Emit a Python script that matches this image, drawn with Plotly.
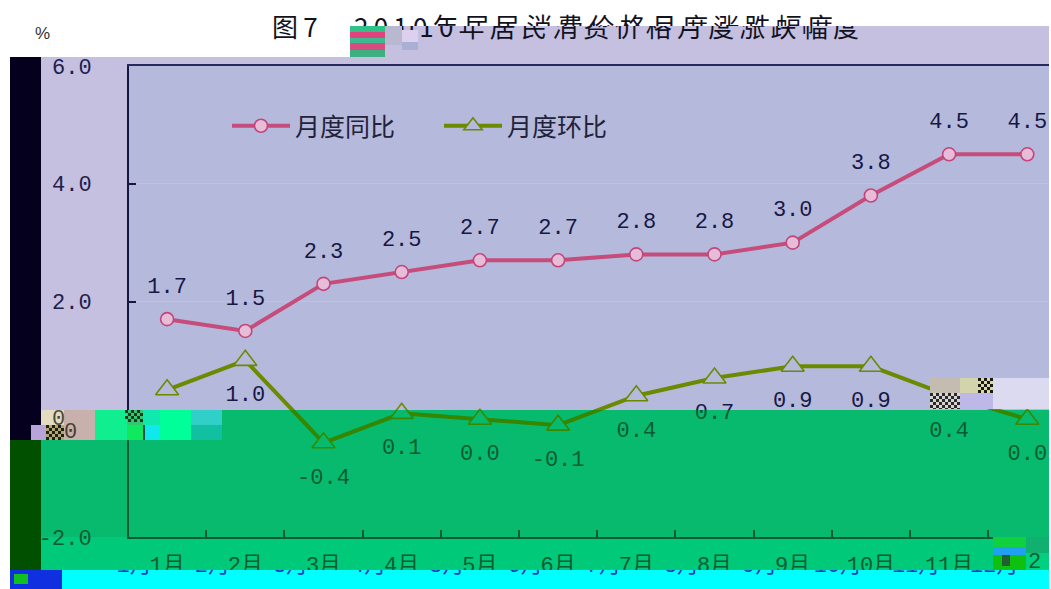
import plotly.graph_objects as go

MONTHS = ["1月","2月","3月","4月","5月","6月","7月","8月","9月","10月","11月","12月"]
YOY = [1.7,1.5,2.3,2.5,2.7,2.7,2.8,2.8,3.0,3.8,4.5,4.5]
MOM = [0.5,1.0,-0.4,0.1,0.0,-0.1,0.4,0.7,0.9,0.9,0.4,0.0]
YOY_NAME = "月度同比"
MOM_NAME = "月度环比"
TITLE = "图7　2010年居民消费价格月度涨跌幅度"
Y_UP = [6,4,2]
Y_UP_TXT = ["6.0","4.0","2.0"]
Y_LOW = [0,-2]
Y_LOW_TXT = ["0.0","-2.0"]

W, H = 1051, 589
PL, PR, PT, PB = 129, 1049, 66, 537
BAND = 410
PITCH = 78.2
y2px = (PB-PT)/8.0
Y_SPLIT = (PB-BAND)/y2px-2
XR = [-0.5+1/PITCH, -0.5+(PR-128)/PITCH]
NAVY = "#171745"; DG = "#0a5c32"
NUM = "Liberation Mono, Noto Sans CJK SC"
CJK = "Noto Sans CJK SC"

def dx(x0,x1): return [x0/W, x1/W]
def dy(y0,y1): return [1-y1/H, 1-y0/H]

fig = go.Figure()
layout = {}
count = 0
def axes(xcfg, ycfg, rect):
    global count
    count += 1
    n = "" if count == 1 else str(count)
    x0,y0,x1,y1 = rect
    layout["xaxis"+n] = dict(domain=dx(x0,x1), anchor="y"+n, **xcfg)
    layout["yaxis"+n] = dict(domain=dy(y0,y1), anchor="x"+n, **ycfg)
    return "x"+n, "y"+n

hidden = dict(visible=False, fixedrange=True)
def px_axes(rect):
    x0,y0,x1,y1 = rect
    return axes(dict(hidden, range=[x0,x1]), dict(hidden, range=[y1,y0]), rect)

cat = dict(type="category", categoryorder="array", categoryarray=MONTHS, range=XR, fixedrange=True)

# upper band
xu, yu = axes(dict(cat, side="top", showline=True, linecolor="#28285c", linewidth=2,
                   showticklabels=False, ticks="", showgrid=False, zeroline=False),
              dict(range=[Y_SPLIT,6], tickvals=Y_UP, ticktext=Y_UP_TXT, showline=True, linecolor=NAVY, linewidth=2,
                   ticks="inside", ticklen=7, tickcolor=NAVY, tickwidth=2, ticklabelstandoff=31,
                   tickfont=dict(family=NUM,size=22,color="#20204a"), showgrid=True, gridcolor="#bfc3e3", gridwidth=1,
                   zeroline=False, fixedrange=True),
              (PL,PT,PR,BAND))
# lower band
xl, yl = axes(dict(cat, showline=True, linecolor=DG, linewidth=2, showticklabels=False, tickson="boundaries",
                   ticks="inside", ticklen=7, tickcolor=DG, tickwidth=2, showgrid=False, zeroline=False),
              dict(range=[-2,Y_SPLIT], tickvals=Y_LOW, ticktext=Y_LOW_TXT, showline=True, linecolor=DG, linewidth=2,
                   ticks="inside", ticklen=7, tickcolor=DG, tickwidth=2, ticklabelstandoff=31,
                   tickfont=dict(family=NUM,size=22,color=DG), showgrid=False, zeroline=False, fixedrange=True),
              (PL,BAND,PR,PB))

def series(x,y,vals,name,lc,mc,ml,sym,size,legend):
    fig.add_trace(go.Scatter(x=MONTHS,y=vals,name=name,mode="lines+markers",xaxis=x,yaxis=y,showlegend=legend,
        line=dict(color=lc,width=4),marker=dict(symbol=sym,size=size,color=mc,line=dict(color=ml,width=1.6))))

def labels(x,y,vals,off,color):
    fig.add_trace(go.Scatter(x=MONTHS,y=[v+off for v in vals],text=[f"{v:.1f}" for v in vals],mode="text",
        xaxis=x,yaxis=y,showlegend=False,textposition="middle center",
        textfont=dict(family=NUM,size=22,color=color)))

series(xu,yu,YOY,YOY_NAME,"#c64c7b","#e6bcd8","#c2467a","circle",13,True)
series(xu,yu,MOM,MOM_NAME,"#6b8a00","#b5b9dc","#6b8a00","triangle-up",20,True)
series(xl,yl,MOM,MOM_NAME,"#358600","#08ba6e","#358a00","triangle-up",20,False)
labels(xu,yu,YOY,0.54,NAVY)
labels(xu,yu,MOM,-0.6,NAVY)
labels(xl,yl,MOM,-0.6,DG)

# month labels, top part in place, bottom part displaced into the cyan strip
xt, yt = axes(dict(cat, visible=False), dict(hidden, range=[570,537]), (PL,537,PR,570))
fig.add_trace(go.Scatter(x=MONTHS,y=[566.5]*12,text=MONTHS,mode="text",xaxis=xt,yaxis=yt,showlegend=False,
    textposition="middle center",textfont=dict(family=NUM,size=22,color=DG)))
G0, G1 = 62, PR
SHIFT = 33
xg, yg = axes(dict(cat, visible=False, range=[(G0-128+SHIFT)/PITCH-0.5,(G1-128+SHIFT)/PITCH-0.5]),
              dict(hidden, range=[589,570]), (G0,570,G1,589))
fig.add_trace(go.Scatter(x=MONTHS,y=[566.5]*12,text=MONTHS,mode="text",xaxis=xg,yaxis=yg,showlegend=False,
    textposition="middle center",textfont=dict(family=NUM,size=22,color="#1438c8")))

# title: two displaced pieces
SP_TITLE = "\u2009".join(TITLE)
def title_piece(rect, x):
    a,b = px_axes(rect)
    fig.add_trace(go.Scatter(x=[x],y=[30],text=[SP_TITLE],mode="text",xaxis=a,yaxis=b,showlegend=False,
        textposition="middle right",textfont=dict(family=CJK,size=26,color="#12121f")))
title_piece((0,0,350,57),272)
title_piece((350,0,1049,26),272)
title_piece((350,26,1049,57),298)

def rect(x0,y0,x1,y1,c,layer="below"):
    return dict(type="rect",xref="paper",yref="paper",x0=x0/W,x1=x1/W,y0=1-y1/H,y1=1-y0/H,
                fillcolor=c,line_width=0,layer=layer)
BG = [(350,26,1049,66,"#c5bfe0"),(41,57,350,66,"#c5bfe0"),(41,66,128,BAND,"#c5bfe0"),
      (128,66,1049,BAND,"#b5b9dc"),(41,BAND,1049,537,"#08ba6e"),(41,537,1049,570,"#00c97a"),
      (10,570,1049,589,"#00ffff"),(10,57,41,440,"#04001e"),(10,440,41,570,"#005000")]
PATCH = [(350,26,385,32,"#30c088"),(350,32,385,38,"#e0447e"),(350,38,385,43,"#40b890"),(350,43,385,50,"#d84c80"),
         (350,50,385,57,"#3cb080"),(385,26,402,45,"#b8b8d0"),(402,30,418,42,"#dcd0ee"),(402,42,418,50,"#aab0d4"),
         (31,425,46,440,"#b8a4d8"),(41,410,64,425,"#e4dcc0"),(46,425,64,440,"#b0a870"),(64,410,95,440,"#c8b0ac"),
         (95,410,127,440,"#10ee90"),(127,410,143,425,"#30c870"),(127,425,143,440,"#10e860"),(143,410,160,425,"#10e8b0"),
         (143,425,160,440,"#10e8f0"),(143,425,145,440,"#20504a"),(160,410,191,440,"#00ff98"),(191,410,222,425,"#30d0c8"),(191,425,222,440,"#10c0a0"),
         (930,378,960,393,"#c4bcb0"),(960,378,978,393,"#d4d4ac"),(978,378,993,393,"#d8d8b0"),(993,378,1049,409,"#dcdaf0"),
         (930,393,960,409,"#d8d4d4"),(960,393,993,409,"#bdb8e8"),
         (993,537,1026,547,"#10d040"),(993,547,1026,555,"#20a0f0"),(993,555,1026,570,"#10c010"),(1002,555,1010,566,"#206030"),
         (1026,537,1049,553,"#10b070"),(1026,553,1049,570,"#00d080"),
         (10,570,62,589,"#1030e0"),(14,574,28,584,"#10c020")]
CHECKERS = [(46,425,64,440,"#20201a"),(978,378,993,393,"#1a1a10"),(930,393,960,409,"#2a2a2a"),(125,410,143,422,"#203820")]
shapes = [rect(*b) for b in BG] + [rect(*p,layer="above") for p in PATCH]
for x0,y0,x1,y1,c in CHECKERS:
    for i,x in enumerate(range(x0,x1,3)):
        for j,y in enumerate(range(y0,y1,3)):
            if (i+j)%2==0:
                shapes.append(rect(x,y,min(x+3,x1),min(y+3,y1),c,"above"))

def note(t,x,y,c,size=22,fam=NUM):
    return dict(text=t,x=x/W,y=1-y/H,xref="paper",yref="paper",showarrow=False,xanchor="center",yanchor="middle",
                font=dict(family=fam,size=size,color=c))
notes = [note("%",42,34,"#333333",17,"Liberation Sans"),note("0",58,419,"#4a4a40"),note("0",70,432,"#4a4030"),
         note("2",1034,562,DG)]

fig.update_layout(width=W,height=H,margin=dict(l=0,r=0,t=0,b=0,autoexpand=False),paper_bgcolor="white",plot_bgcolor="rgba(0,0,0,0)",
    shapes=shapes,annotations=notes,hovermode=False,
    legend=dict(orientation="h",x=227/W,y=1-103/H,xanchor="left",yanchor="top",bgcolor="rgba(0,0,0,0)",
                itemwidth=58,entrywidth=139,entrywidthmode="pixels",font=dict(family=CJK,size=25,color="#22223a")),
    **layout)
fig.write_html("out.html", config=dict(displayModeBar=False),
               post_script="document.body.style.margin='0';document.documentElement.style.overflow='hidden';")
